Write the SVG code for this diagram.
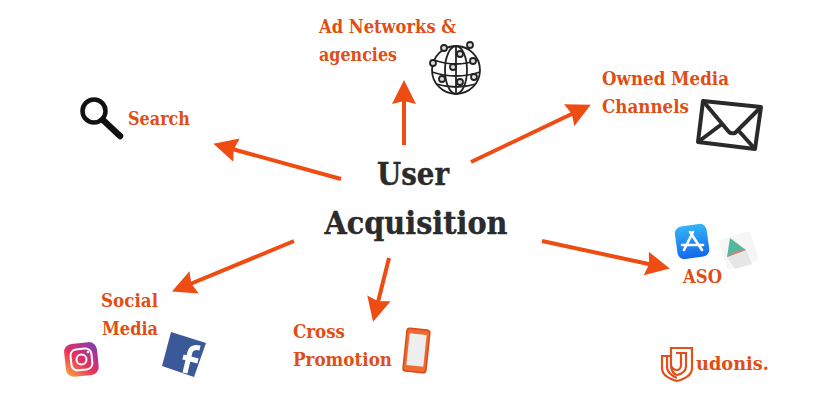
<svg xmlns="http://www.w3.org/2000/svg" width="840" height="400" viewBox="0 0 840 400">
<defs>
<style>
.l{font-family:"DejaVu Serif","Liberation Serif",serif;font-weight:700;font-size:18.500px;fill:#e04e16}
.t{font-family:"DejaVu Serif","Liberation Serif",serif;font-weight:700;font-size:32.500px;fill:#2b2b2b;stroke:#2b2b2b;stroke-width:.4}
.c{fill:none;stroke:#ee4c12;stroke-width:4}
.g{fill:none;stroke:#222;stroke-width:1.800}
</style>
<marker id="a" markerUnits="userSpaceOnUse" markerWidth="26" markerHeight="26" refX="12" refY="12" orient="auto"><path d="M0 0L24 12L0 24L3 12Z" fill="#ee4c12"/></marker>
<linearGradient id="ig" x1="0" y1="1" x2="1" y2="0"><stop offset="0" stop-color="#fcb045"/><stop offset=".45" stop-color="#e8305a"/><stop offset="1" stop-color="#7a3bc0"/></linearGradient>
<linearGradient id="as" x1="0" y1="0" x2="0" y2="1"><stop offset="0" stop-color="#32b5f5"/><stop offset="1" stop-color="#1467ee"/></linearGradient>
</defs>
<rect width="840" height="400" fill="#fff"/>
<g id="connectors">
<path class="c" d="M404 145L404 92" marker-end="url(#a)"/>
<path class="c" d="M341 179L225 147" marker-end="url(#a)"/>
<path class="c" d="M471 162L580 110" marker-end="url(#a)"/>
<path class="c" d="M542 241L658 266" marker-end="url(#a)"/>
<path class="c" d="M294 241L183 287" marker-end="url(#a)"/>
<path class="c" d="M389 258L376 310" marker-end="url(#a)"/>
</g>
<g id="center"><text class="t" x="413" y="185" text-anchor="middle" textLength="72" lengthAdjust="spacingAndGlyphs">User</text><text class="t" x="416" y="234" text-anchor="middle" textLength="183" lengthAdjust="spacingAndGlyphs">Acquisition</text></g>
<g id="ad-networks"><text class="l" x="319" y="33" textLength="137" lengthAdjust="spacingAndGlyphs">Ad Networks &amp;</text><text class="l" x="319" y="61" textLength="78" lengthAdjust="spacingAndGlyphs">agencies</text>
<g class="g"><circle cx="456" cy="70" r="24"/><ellipse cx="456" cy="70" rx="11" ry="24"/><path d="M456 46V94M434 60Q456 68 478 60M432 72Q456 80 480 72M436 84Q456 90 476 84"/></g>
<g fill="#ddd" stroke="#222" stroke-width="1.800"><circle cx="444" cy="48" r="3"/><circle cx="470" cy="45" r="3"/><circle cx="460" cy="54" r="3"/><circle cx="433" cy="63" r="3"/><circle cx="473" cy="61" r="3"/><circle cx="453" cy="67" r="3"/><circle cx="442" cy="79" r="3"/><circle cx="474" cy="77" r="3"/><circle cx="460" cy="82" r="3"/></g></g>
<g id="search"><text class="l" x="128" y="125" textLength="62" lengthAdjust="spacingAndGlyphs">Search</text><circle cx="94" cy="111" r="11.500" fill="none" stroke="#111" stroke-width="4.500"/><path d="M103 120L120 136" stroke="#111" stroke-width="6.500" stroke-linecap="round"/></g>
<g id="owned-media"><text class="l" x="602" y="85" textLength="127" lengthAdjust="spacingAndGlyphs">Owned Media</text><text class="l" x="602" y="113" textLength="87" lengthAdjust="spacingAndGlyphs">Channels</text>
<g fill="none" stroke="#2a2a2a" stroke-width="4" stroke-linejoin="round"><path d="M703 101L761 107L755 149L698 142Z"/><path d="M703 101L729 132Q731 134 735 133L761 107M698 142L722 124M755 149L738 130"/></g></g>
<g id="aso"><text class="l" x="683" y="283" textLength="39" lengthAdjust="spacingAndGlyphs">ASO</text>
<rect x="676" y="225" width="32" height="33" rx="7" fill="url(#as)" transform="rotate(-8 692 241)"/><path d="M693 232L684 250M690 232L702 250M682 245H703" stroke="#fff" stroke-width="2.600" fill="none" stroke-linecap="round"/>
<rect x="722" y="235" width="33" height="31" rx="3" fill="#f6f6f6" transform="rotate(-17 738 250)"/><path d="M727 257L746 250L752 264L735 269Z" fill="#e6e6e6"/><path d="M730 238L746 250L727 257Z" fill="#52b7a0"/><path d="M730 238L746 250L737 243Z" fill="#f0c44e"/><path d="M727 257L746 250L736 251Z" fill="#e87a70"/></g>
<g id="social-media"><text class="l" x="101" y="307" textLength="57" lengthAdjust="spacingAndGlyphs">Social</text><text class="l" x="102" y="335" textLength="56" lengthAdjust="spacingAndGlyphs">Media</text>
<rect x="65" y="343" width="33" height="33" rx="8" fill="url(#ig)" transform="rotate(-6 81 360)"/><rect x="71" y="349" width="21" height="21" rx="6" fill="none" stroke="#fff" stroke-width="2" transform="rotate(-6 81 360)"/><circle cx="81.500" cy="359.500" r="5" fill="none" stroke="#fff" stroke-width="2"/><circle cx="88" cy="352" r="1.300" fill="#fff"/>
<path d="M171 332L206 343L194 377L162 366Z" fill="#3b5998"/><path d="M185 373L190 352Q192 346 200 348M183 357L198 361" fill="none" stroke="#fff" stroke-width="5"/></g>
<g id="cross-promotion"><text class="l" x="293" y="338" textLength="52" lengthAdjust="spacingAndGlyphs">Cross</text><text class="l" x="293" y="366" textLength="99" lengthAdjust="spacingAndGlyphs">Promotion</text>
<rect x="405" y="329" width="23" height="43" rx="3" fill="#ee6a32" stroke="#d84a16" stroke-width="1.500" transform="rotate(6 416 350)"/><rect x="408" y="334" width="17" height="32" fill="#eee" transform="rotate(6 416 350)"/></g>
<g id="udonis"><g fill="none" stroke="#e2501c" stroke-width="2.200"><path d="M671 356V348H692V368Q692 377 677 381Q662 377 662 368V356H671"/><path d="M671 356V366Q672 374 677 375Q686 373 686 366V353H676"/><path d="M681 353V366Q680 370 677 370Q673 370 671 366"/><path d="M667 356V368Q668 374 677 378"/></g><text class="l" x="696" y="370" textLength="73" lengthAdjust="spacingAndGlyphs">udonis.</text></g>
</svg>
